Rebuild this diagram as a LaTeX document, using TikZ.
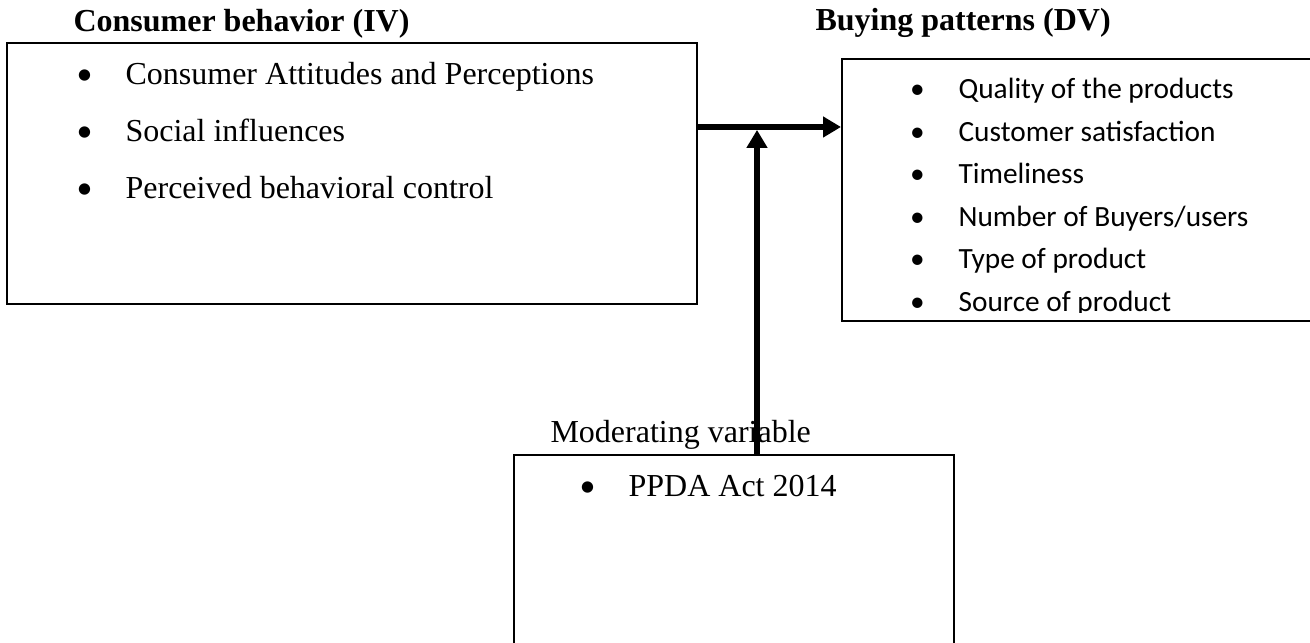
\documentclass[tikz,border=0pt]{standalone}
\usepackage{fontspec}
\setmainfont{Liberation Serif}
\newfontfamily\calibfont{Carlito}
\usetikzlibrary{arrows.meta,positioning}
% bullet with a fixed gap before the item text
\newcommand{\bul}[1]{\makebox[0pt]{\calibfont\textbullet}\hspace{15.4pt}#1}

\begin{document}
\begin{tikzpicture}[x=0.375pt, y=-0.375pt,
        box/.style={rectangle, draw=black, line width=0.75pt, anchor=north west,
                    inner sep=0pt},
        ttl/.style={anchor=base west, inner sep=0pt, font=\bfseries\fontsize{12}{14}\selectfont},
        item/.style={anchor=base west, inner sep=0pt, font=\fontsize{12}{14}\selectfont},
        itemc/.style={anchor=base west, inner sep=0pt, font=\calibfont\fontsize{11}{13}\selectfont},
        arr/.style={-{Triangle[length=6.75pt, width=7.5pt]}, line width=2.25pt}]
        \path[clip, use as bounding box] (0,0) rectangle (1310,643);
        % boxes
        \node[box, minimum width=258.75pt, minimum height=97.9pt] (cb) at (6,42) {};
        \node[box, minimum width=187.5pt, minimum height=98.25pt] (bp) at (841,58) {};
        \node[box, minimum width=165pt, minimum height=93.75pt] (mv) at (513,454) {};
        % titles
        \node[ttl] (cbt) at (73,32) {Consumer behavior (IV)};
        \node[ttl] (bpt) at (815,31) {Buying patterns (DV)};
        \node[item] (mvt) at (550,443) {Moderating variable};
        % independent variable
        \node[item] (cb1) at (84,85)  {\bul{Consumer Attitudes and Perceptions}};
        \node[item] (cb2) at (84,142) {\bul{Social influences}};
        \node[item] (cb3) at (84,199) {\bul{Perceived behavioral control}};
        % dependent variable
        \begin{scope}
            \clip (841,58) rectangle (1310,313);
            \node[itemc] (bp1) at (917,99)  {\bul{Quality of the products}};
            \node[itemc] (bp2) at (917,141.5) {\bul{Customer satisfaction}};
            \node[itemc] (bp3) at (917,184) {\bul{Timeliness}};
            \node[itemc] (bp4) at (917,226.5) {\bul{Number of Buyers/users}};
            \node[itemc] (bp5) at (917,269) {\bul{Type of product}};
            \node[itemc] (bp6) at (917,311.5) {\bul{Source of product}};
        \end{scope}
        % moderating variable
        \node[item] (mv1) at (587,496) {\bul{PPDA Act 2014}};
        % arrows
        \coordinate (jn) at (757,127);
        \draw[arr] (cb.east |- jn) -- (bp.west |- jn);
        \draw[arr] (mv.north -| jn) -- ([yshift=-1.1pt]jn);
    \end{tikzpicture}
\end{document}
